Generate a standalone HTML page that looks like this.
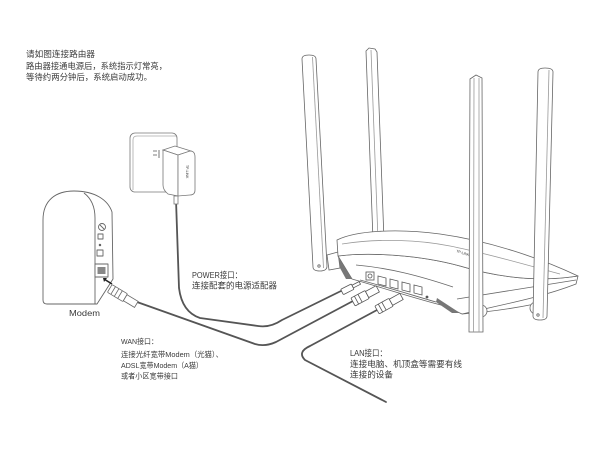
<!DOCTYPE html>
<html><head><meta charset="utf-8"><style>
html,body{margin:0;padding:0;background:#fff;width:600px;height:450px;overflow:hidden}
svg{display:block}
text{font-family:"Liberation Sans","Noto Sans CJK SC",sans-serif;fill:#3a3a3a}
</style></head><body>
<svg width="600" height="450" viewBox="0 0 600 450" xmlns="http://www.w3.org/2000/svg">
<rect width="600" height="450" fill="#fff"/>

<!-- Top text -->
<text x="26" y="57" font-size="8.5" textLength="69" lengthAdjust="spacingAndGlyphs">请如图连接路由器</text>
<text x="26" y="69" font-size="8.5" textLength="141" lengthAdjust="spacingAndGlyphs">路由器接通电源后，系统指示灯常亮，</text>
<text x="26" y="80" font-size="8.5" textLength="126" lengthAdjust="spacingAndGlyphs">等待约两分钟后，系统启动成功。</text>

<!-- Cables -->
<g fill="none" stroke="#555" stroke-width="1.8" stroke-linecap="round" stroke-linejoin="round">
  <path d="M176,200 L179,288 Q182,312 200,318 L258,326 Q270,328 282,320 L343,290"/>
  <path d="M137,302 L255,344 Q265,347 276,342 L353,301"/>
  <path d="M377,310 L310,346 Q297,352 305,360 L386,402"/>
</g>

<!-- Wall outlet -->
<g fill="#fff" stroke="#777" stroke-width="0.8">
  <rect x="130" y="133" width="47" height="59" rx="5"/>
  <path d="M133,190 L133,140 Q133,136 137,136 L176,136" fill="none" stroke="#aaa"/>
  <path d="M153,151 L157,151 M153,155 L157,155 M159,150 L159,158" fill="none" stroke="#555"/>
  <!-- adapter -->
  <path d="M163,150 L175,146 L191,151 L178,155 Z"/>
  <path d="M163,150 L178,155 L178,196 L168,194 Q163,190 163,185 Z"/>
  <path d="M178,155 L190,151 Q195,151 195,157 L195,190 Q195,195 190,195 L178,196 Z"/>
  <rect x="174" y="196" width="4" height="8"/>
</g>
<text x="186" y="165" font-size="3.5" fill="#888" transform="rotate(90 186 165)">TP-LINK</text>

<!-- Modem -->
<g fill="#fff" stroke="#666" stroke-width="0.9" stroke-linejoin="round">
  <path d="M43,300 L43,220 C43,200 56,191 74,191 C95,191 108,200 112,212 L113,279 L97,304 L47,304 Q43,304 43,300 Z"/>
  <path d="M84,193 C92,199 95,208 95,218 L95,304" fill="none"/>
  <circle cx="102" cy="227" r="3.5"/>
  <path d="M100,225 L104,229" fill="none"/>
  <rect x="98" y="234" width="5" height="5"/>
  <circle cx="100" cy="245" r="0.8" fill="#444"/>
  <rect x="97" y="250" width="6" height="6"/>
  <rect x="95" y="264" width="13" height="13"/>
  <rect x="97.5" y="267" width="8" height="7" fill="#888" stroke="none"/>
</g>
<path d="M112,284 L104,279" stroke="#222" stroke-width="1.6"/>
<path d="M103,278 L107,278 L104,282 Z" fill="#222"/>
<!-- modem connector -->
<g transform="translate(110,288) rotate(31)" fill="#fff" stroke="#666" stroke-width="0.8">
  <rect x="0" y="-4" width="18" height="9" rx="1"/>
  <rect x="18" y="-3" width="13" height="7"/>
  <path d="M4,-4 L4,5 M8,-4 L8,5 M12,-4 L12,5" fill="none"/>
</g>
<text x="69" y="316" font-size="8.5" textLength="31" lengthAdjust="spacingAndGlyphs">Modem</text>

<!-- Router antennas behind -->
<g fill="#fff" stroke="#666" stroke-width="0.8">
  <path d="M302,59 Q302,55 309,55 Q316,55 316,59 L327,266 Q327,271 320,271 Q313,271 313,267 Z"/>
  <path d="M312.5,57 L323.5,268" fill="none" stroke="#999"/>
  <circle cx="319" cy="266" r="1.2"/>
  <path d="M366,51 L369,48 L375,49 L377,52 L384,240 L373,240 Z"/>
  <path d="M371,50 L378,240" fill="none" stroke="#999"/>
  <!-- stub -->
  <path d="M327,255 L338,252 L340,268 L329,270 Z"/>
</g>

<!-- Router body -->
<g fill="#fff" stroke="#666" stroke-width="0.8" stroke-linejoin="round">
  <!-- base/back -->
  <path d="M338,256 L352,279 C390,290 420,300 445,306 L462,314 C500,305 540,298 576,284 L578,276 C540,282 500,278 460,266 C420,255 370,252 338,256 Z"/>
  <!-- shell top -->
  <path d="M337,240 C355,231 395,228 440,234 C490,241 540,258 578,276 C540,282 500,278 460,266 C420,255 370,252 338,256 Z"/>
  <path d="M342,244 C380,238 420,240 450,246 C490,254 530,266 560,274" fill="none" stroke="#999"/>
  <!-- port panel edges -->
  <path d="M356,265 C390,268 420,276 453,287" fill="none"/>
  <path d="M360,280 C390,288 415,296 436,302" fill="none"/>
  <!-- right base -->
  <path d="M457,299 C500,292 540,286 576,280 M462,314 C490,312 515,308 535,304" fill="none"/>
  <circle cx="536" cy="308" r="6"/>
  <circle cx="481" cy="311" r="6"/>
</g>
<!-- vents -->
<path d="M339,258 L352,279 L346,279 L340,268 Z" fill="#777"/>
<path d="M437,298 L460,313 L452,313 L436,302 Z" fill="#777"/>
<!-- ports -->
<g fill="#fff" stroke="#555" stroke-width="0.8">
  <rect x="366" y="272" width="8" height="8"/><circle cx="370" cy="276" r="2"/>
  <path d="M378,276 L386,278 L386,286 L378,284 Z"/>
  <path d="M390,279 L398,281 L398,289 L390,287 Z"/>
  <path d="M402,282 L410,284 L410,292 L402,290 Z"/>
  <path d="M414,285 L422,287 L422,295 L414,293 Z"/>
  <circle cx="427" cy="297" r="1" fill="#555"/>
</g>
<text x="456" y="252" font-size="3.5" fill="#999" transform="rotate(18 456 252)">TP-LINK</text>

<!-- router connectors -->
<g fill="#fff" stroke="#555" stroke-width="0.8">
  <g transform="translate(342,292) rotate(-27)">
    <rect x="0" y="-3" width="12" height="6" rx="1"/>
    <rect x="12" y="-1.5" width="8" height="3"/>
  </g>
  <g transform="translate(353,302) rotate(-28)">
    <rect x="0" y="-4.5" width="16" height="9" rx="1"/>
    <rect x="16" y="-3.5" width="12" height="7"/>
    <path d="M4,-4.5 L4,4.5 M8,-4.5 L8,4.5" fill="none"/>
  </g>
  <g transform="translate(377,310) rotate(-29)">
    <rect x="0" y="-4.5" width="16" height="9" rx="1"/>
    <rect x="16" y="-3.5" width="12" height="7"/>
    <path d="M4,-4.5 L4,4.5 M8,-4.5 L8,4.5" fill="none"/>
  </g>
</g>

<!-- front antennas -->
<g fill="#fff" stroke="#666" stroke-width="0.8">
  <path d="M470,79 L476,75 L482,78 L483,332 L469,332 Z"/>
  <path d="M474,78 L473.5,332 M479,78 L479,332" fill="none" stroke="#999"/>
  <path d="M538,72 Q538,68 545,68 Q553,68 553,72 L547,316 Q547,320 540,320 Q533,320 533,316 Z"/>
  <path d="M549,70 L543,318" fill="none" stroke="#999"/>
  <circle cx="538" cy="315" r="1.2"/>
</g>

<!-- Labels -->
<text x="192" y="278" font-size="8.5" textLength="50" lengthAdjust="spacingAndGlyphs">POWER接口：</text>
<text x="192" y="288.5" font-size="8.5" textLength="85" lengthAdjust="spacingAndGlyphs">连接配套的电源适配器</text>

<text x="121" y="344" font-size="7.5" textLength="37" lengthAdjust="spacingAndGlyphs">WAN接口：</text>
<text x="121" y="357" font-size="7.5" textLength="102" lengthAdjust="spacingAndGlyphs">连接光纤宽带Modem（光猫）、</text>
<text x="121" y="368" font-size="7.5" textLength="82" lengthAdjust="spacingAndGlyphs">ADSL宽带Modem（A猫）</text>
<text x="121" y="378.5" font-size="7.5" textLength="57" lengthAdjust="spacingAndGlyphs">或者小区宽带接口</text>

<text x="350" y="356" font-size="8.5" textLength="37" lengthAdjust="spacingAndGlyphs">LAN接口：</text>
<text x="350" y="367" font-size="8.5" textLength="112" lengthAdjust="spacingAndGlyphs">连接电脑、机顶盒等需要有线</text>
<text x="350" y="377.5" font-size="8.5" textLength="43" lengthAdjust="spacingAndGlyphs">连接的设备</text>
</svg>
</body></html>
